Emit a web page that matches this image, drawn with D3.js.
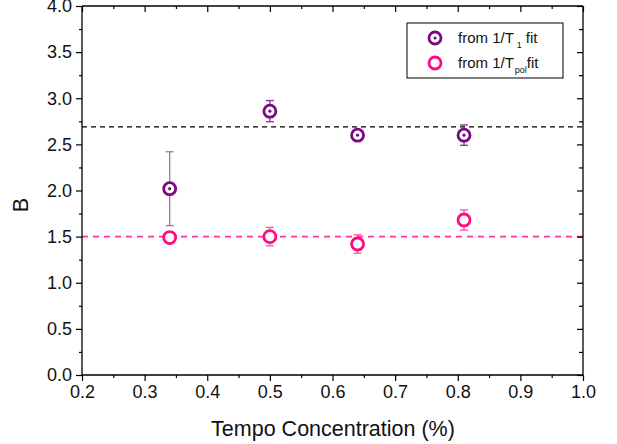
<!DOCTYPE html>
<html><head><meta charset="utf-8">
<script src="https://cdn.jsdelivr.net/npm/d3@7"></script>
<style>body{margin:0;background:#fff}svg{display:block}text{font-family:"Liberation Sans",Arial,sans-serif}</style>
</head><body>
<script>
const xValues = [0.34, 0.5, 0.64, 0.81];
const t1Values = [2.02, 2.86, 2.60, 2.60];
const t1Errors = [0.40, 0.115, 0.03, 0.11];
const tpolValues = [1.49, 1.50, 1.42, 1.68];
const tpolErrors = [0.05, 0.10, 0.10, 0.11];
const t1Fit = 2.69;
const tpolFit = 1.50;
const xTicks = [0.2,0.3,0.4,0.5,0.6,0.7,0.8,0.9,1.0];
const yTicks = [0,0.5,1,1.5,2,2.5,3,3.5,4];

const W=617,H=444;
const svg=d3.select("body").append("svg").attr("width",W).attr("height",H);
const x=d3.scaleLinear().domain([0.2,1.0]).range([82,583]);
const y=d3.scaleLinear().domain([0,4]).range([375,6]);
const purple="#7a0a80", pink="#ff0a82";

// dashed fit lines
svg.append("line").attr("x1",x(0.2)).attr("x2",x(1.0)).attr("y1",y(t1Fit)).attr("y2",y(t1Fit))
  .attr("stroke","#000").attr("stroke-width",1.3).attr("stroke-dasharray","5,4");
svg.append("line").attr("x1",x(0.2)).attr("x2",x(1.0)).attr("y1",y(tpolFit)).attr("y2",y(tpolFit))
  .attr("stroke","#ff3399").attr("stroke-width",1.6).attr("stroke-dasharray","6,5");

// axes
const fmt=d3.format(".1f");
const minorX=d3.range(0.25,1.0,0.1);
const minorY=d3.range(0.25,4,0.5);
const gx=svg.append("g").attr("transform",`translate(0,${y(0)})`)
  .call(d3.axisBottom(x).tickValues(xTicks).tickFormat(fmt).tickSize(6).tickPadding(4));
gx.append("g").call(d3.axisBottom(x).tickValues(minorX).tickFormat("").tickSize(3));
const gy=svg.append("g").attr("transform",`translate(${x(0.2)},0)`)
  .call(d3.axisLeft(y).tickValues(yTicks).tickFormat(fmt).tickSize(6).tickPadding(4));
gy.append("g").call(d3.axisLeft(y).tickValues(minorY).tickFormat("").tickSize(3));
const gt=svg.append("g").attr("transform",`translate(0,${y(4)})`)
  .call(d3.axisBottom(x).tickValues(xTicks).tickFormat("").tickSize(6));
gt.append("g").call(d3.axisBottom(x).tickValues(minorX).tickFormat("").tickSize(3));
const gr=svg.append("g").attr("transform",`translate(${x(1.0)},0)`)
  .call(d3.axisLeft(y).tickValues(yTicks).tickFormat("").tickSize(6));
gr.append("g").call(d3.axisLeft(y).tickValues(minorY).tickFormat("").tickSize(4));
svg.selectAll(".domain").attr("stroke","#000").attr("stroke-width",1.3);
svg.selectAll(".tick line").attr("stroke","#000").attr("stroke-width",1.2);
svg.selectAll(".tick text").attr("font-size",18).attr("fill","#111");
gt.selectAll(".domain").attr("d",`M${x(0.2)},0H${x(1.0)}`);
gx.selectAll(".domain").attr("d",`M${x(0.2)},0H${x(1.0)}`);
gy.selectAll(".domain").attr("d",`M0,${y(0)}V${y(4)}`);
gr.selectAll(".domain").attr("d",`M0,${y(0)}V${y(4)}`);
svg.selectAll("g g .domain").remove();

// axis titles
svg.append("text").attr("x",333).attr("y",436).attr("text-anchor","middle").attr("font-size",21.5).attr("fill","#111").text("Tempo Concentration (%)");
svg.append("text").attr("transform","translate(28,205) rotate(-90)").attr("text-anchor","middle").attr("font-size",21.5).attr("fill","#111").text("B");

function series(vals,errs,color,dot,errAlpha){
  const g=svg.append("g");
  xValues.forEach((xv,i)=>{
    const cx=x(xv), yt=y(vals[i]+errs[i]), yb=y(vals[i]-errs[i]);
    const eg=g.append("g").attr("stroke",color).attr("stroke-width",1.3).attr("opacity",errAlpha[i]);
    eg.append("line").attr("x1",cx).attr("x2",cx).attr("y1",yt).attr("y2",yb);
    eg.append("line").attr("x1",cx-4).attr("x2",cx+4).attr("y1",yt).attr("y2",yt);
    eg.append("line").attr("x1",cx-4).attr("x2",cx+4).attr("y1",yb).attr("y2",yb);
    g.append("circle").attr("cx",cx).attr("cy",y(vals[i])).attr("r",6).attr("fill","#fff").attr("stroke",color).attr("stroke-width",2.8);
    if(dot) g.append("circle").attr("cx",cx).attr("cy",y(vals[i])).attr("r",1.6).attr("fill",color);
  });
}
series(t1Values,t1Errors,purple,true,[0.6,0.85,0.85,0.85]);
series(tpolValues,tpolErrors,pink,false,[0.7,0.7,0.7,0.7]);

// legend
const lg=svg.append("g");
lg.append("rect").attr("x",407).attr("y",23).attr("width",156).attr("height",55).attr("fill","#fff").attr("stroke","#000").attr("stroke-width",1);
lg.append("circle").attr("cx",435).attr("cy",38).attr("r",6).attr("fill","#fff").attr("stroke",purple).attr("stroke-width",2.8);
lg.append("circle").attr("cx",435).attr("cy",38).attr("r",1.6).attr("fill",purple);
lg.append("circle").attr("cx",435).attr("cy",63).attr("r",6).attr("fill","#fff").attr("stroke",pink).attr("stroke-width",2.8);
const t1=lg.append("text").attr("x",458).attr("y",43).attr("font-size",15).attr("fill","#111");
t1.append("tspan").text("from 1/T");
t1.append("tspan").attr("font-size",9).attr("dy",5).attr("dx",3).text("1");
t1.append("tspan").attr("dy",-5).attr("dx",4).text("fit");
const t2=lg.append("text").attr("x",458).attr("y",68).attr("font-size",15).attr("fill","#111");
t2.append("tspan").text("from 1/T");
t2.append("tspan").attr("font-size",9).attr("dy",5).attr("dx",1).text("pol");
t2.append("tspan").attr("dy",-5).text("fit");
</script>
</body></html>
